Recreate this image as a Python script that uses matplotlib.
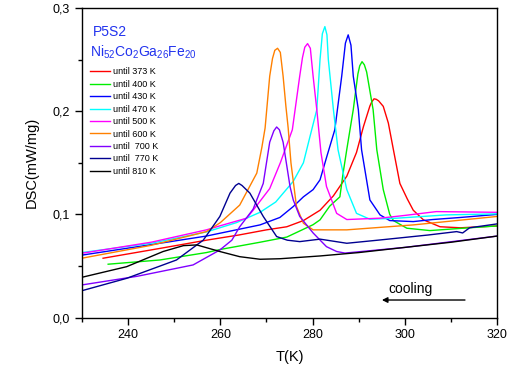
import matplotlib
matplotlib.use("Agg")
import matplotlib.pyplot as plt
from matplotlib.ticker import MultipleLocator, FuncFormatter

plt.rcParams['font.family'] = ['Liberation Sans', 'DejaVu Sans']

# until 373 K
t_373 = [234.6, 246.9, 257.0, 264.0, 270.0, 274.4, 278.0, 281.6, 284.5, 287.4, 289.5, 291.0, 291.7,
         292.4, 292.8, 293.3, 293.8, 294.3, 295.3, 296.4, 297.5, 298.9, 300.5, 301.8, 304.0, 307.6,
         312.0, 320.0]
d_373 = [0.0575, 0.067, 0.075, 0.080, 0.085, 0.088, 0.094, 0.104, 0.118, 0.137, 0.160, 0.185, 0.195,
         0.205, 0.209, 0.212, 0.2115, 0.210, 0.2047, 0.1885, 0.1626, 0.130, 0.115, 0.104, 0.0947, 0.088,
         0.087, 0.0888]

# until 400 K
t_400 = [235.7, 246.9, 257.0, 260.0, 268.6, 274.4, 280.1, 281.6, 283.7, 285.9, 286.6, 287.4, 288.8,
         289.8, 290.2, 290.7, 291.2, 291.7, 293.1, 293.9, 295.3, 296.7, 297.5, 300.4, 305.4, 312.6, 320.0]
d_400 = [0.0517, 0.0558, 0.063, 0.066, 0.073, 0.078, 0.090, 0.0947, 0.108, 0.117, 0.140, 0.163, 0.2015,
         0.236, 0.244, 0.248, 0.245, 0.238, 0.2015, 0.1626, 0.124, 0.100, 0.094, 0.0866, 0.0843, 0.0866,
         0.0888]

# until 430 K
t_430 = [230.0, 244.0, 257.0, 268.6, 272.9, 275.8, 278.0, 280.1, 281.6, 283.0, 284.8, 286.3, 287.1,
         287.7, 288.3, 288.8, 289.9, 290.6, 292.4, 294.6, 296.7, 301.8, 306.0, 312.0, 320.0]
d_430 = [0.0605, 0.070, 0.079, 0.0898, 0.097, 0.1076, 0.117, 0.124, 0.1335, 0.155, 0.182, 0.234, 0.266,
         0.274, 0.264, 0.234, 0.2015, 0.1626, 0.114, 0.0995, 0.094, 0.093, 0.095, 0.097, 0.100]

# until 470 K
t_470 = [230.0, 245.0, 257.0, 263.5, 268.6, 272.0, 275.8, 278.0, 279.4, 280.9, 281.6, 282.1, 282.65,
         283.1, 283.4, 284.5, 285.5, 287.4, 289.5, 292.4, 298.2, 309.0, 320.0]
d_470 = [0.063, 0.072, 0.083, 0.092, 0.102, 0.112, 0.132, 0.150, 0.175, 0.2015, 0.250, 0.275, 0.282,
         0.274, 0.250, 0.2015, 0.1626, 0.124, 0.101, 0.0953, 0.0963, 0.0995, 0.1005]

# until 500 K
t_500 = [230.0, 245.0, 257.0, 260.0, 265.7, 267.1, 270.7, 273.0, 275.6, 277.2, 277.8, 278.3, 278.9,
         279.5, 280.1, 280.9, 281.8, 283.0, 285.2, 287.4, 294.6, 300.0, 306.8, 320.0]
d_500 = [0.0623, 0.073, 0.085, 0.089, 0.0963, 0.104, 0.125, 0.150, 0.182, 0.234, 0.252, 0.262, 0.2655,
         0.261, 0.234, 0.2015, 0.160, 0.127, 0.101, 0.095, 0.0963, 0.099, 0.1027, 0.102]

# until 600 K
t_600 = [230.0, 245.0, 257.0, 260.0, 264.2, 267.9, 269.0, 269.7, 270.7, 271.3, 271.8, 272.4, 273.0,
         273.6, 274.2, 274.7, 275.3, 276.5, 278.0, 280.1, 287.4, 301.8, 320.0]
d_600 = [0.0575, 0.070, 0.0833, 0.092, 0.109, 0.140, 0.165, 0.1837, 0.234, 0.251, 0.259, 0.261, 0.257,
         0.234, 0.205, 0.1837, 0.150, 0.1076, 0.0914, 0.085, 0.085, 0.0898, 0.098]

# until 700 K
t_700 = [230.0, 242.0, 254.1, 259.9, 262.5, 264.2, 267.1, 269.3, 270.7, 271.6, 272.2, 272.8, 273.6,
         275.1, 275.8, 277.2, 280.1, 283.0, 285.2, 287.0, 300.0, 320.0]
d_700 = [0.0316, 0.040, 0.051, 0.0655, 0.075, 0.088, 0.105, 0.130, 0.170, 0.181, 0.1847, 0.182, 0.170,
         0.127, 0.114, 0.098, 0.082, 0.0687, 0.064, 0.0625, 0.068, 0.079]

# until 770 K
t_770 = [230.0, 239.7, 250.5, 256.3, 259.9, 262.1, 263.3, 264.0, 264.7, 266.4, 269.3, 272.2, 274.5,
         277.2, 281.6, 287.4, 294.6, 305.0, 311.2, 312.5, 314.0, 320.0]
d_770 = [0.026, 0.038, 0.0558, 0.075, 0.098, 0.1206, 0.128, 0.130, 0.128, 0.1206, 0.098, 0.0785, 0.075,
         0.0736, 0.076, 0.072, 0.0752, 0.080, 0.0833, 0.082, 0.087, 0.0908]

# until 810 K
t_810 = [230.0, 239.7, 247.6, 252.0, 254.9, 259.9, 264.2, 268.6, 272.9, 281.6, 290.0, 300.0, 310.0, 320.0]
d_810 = [0.039, 0.0493, 0.064, 0.0697, 0.0704, 0.064, 0.059, 0.0565, 0.057, 0.0597, 0.063, 0.068, 0.073, 0.079]

labels = ["until 373 K", "until 400 K", "until 430 K", "until 470 K", "until 500 K",
          "until 600 K", "until  700 K", "until  770 K", "until 810 K"]
colors = ["#ff0000", "#00ee00", "#0000ff", "#00ffff", "#ff00ff",
          "#ff8000", "#8000ff", "#000090", "#000000"]
series = [(t_373, d_373), (t_400, d_400), (t_430, d_430), (t_470, d_470), (t_500, d_500),
          (t_600, d_600), (t_700, d_700), (t_770, d_770), (t_810, d_810)]

fig = plt.figure(figsize=(5.18, 3.65), dpi=100)
ax = fig.add_axes([0.158, 0.130, 0.802, 0.848])

for (t, d), c, lab in zip(series, colors, labels):
    ax.plot(t, d, color=c, lw=1.0, label=lab)

ax.set_xlim(230, 320)
ax.set_ylim(0, 0.3)
ax.xaxis.set_major_locator(MultipleLocator(20))
ax.xaxis.set_minor_locator(MultipleLocator(10))
ax.yaxis.set_major_locator(MultipleLocator(0.1))
ax.yaxis.set_minor_locator(MultipleLocator(0.05))
ax.yaxis.set_major_formatter(FuncFormatter(lambda v, p: ("%.1f" % v).replace(".", ",")))
ax.tick_params(which='major', direction='out', length=5, width=1, labelsize=9)
ax.tick_params(which='minor', direction='out', length=3, width=1)
for s in ax.spines.values():
    s.set_linewidth(1.0)

ax.set_xlabel("T(K)", fontsize=10.5, labelpad=6)
ax.set_ylabel("DSC(mW/mg)", fontsize=10.5, labelpad=10)

ax.text(0.026, 0.922, "P5S2", transform=ax.transAxes, color="#2233ee", fontsize=10, va='center')
ax.text(0.02, 0.858, r"$\mathregular{Ni_{52}Co_{2}Ga_{26}Fe_{20}}$", transform=ax.transAxes,
        color="#2233ee", fontsize=10, va='center')

ax.legend(loc='upper left', bbox_to_anchor=(0.02, 0.808), frameon=False, fontsize=6.5,
          handlelength=2.2, handletextpad=0.35, labelspacing=0.38, borderpad=0, borderaxespad=0)

ax.text(301.3, 0.028, "cooling", fontsize=10, ha='center', va='center')
ax.annotate("", xy=(294.4, 0.017), xytext=(313.6, 0.017),
            arrowprops=dict(arrowstyle='-|>', color='black', lw=1, mutation_scale=8))

fig.savefig("out.png", dpi=100)
